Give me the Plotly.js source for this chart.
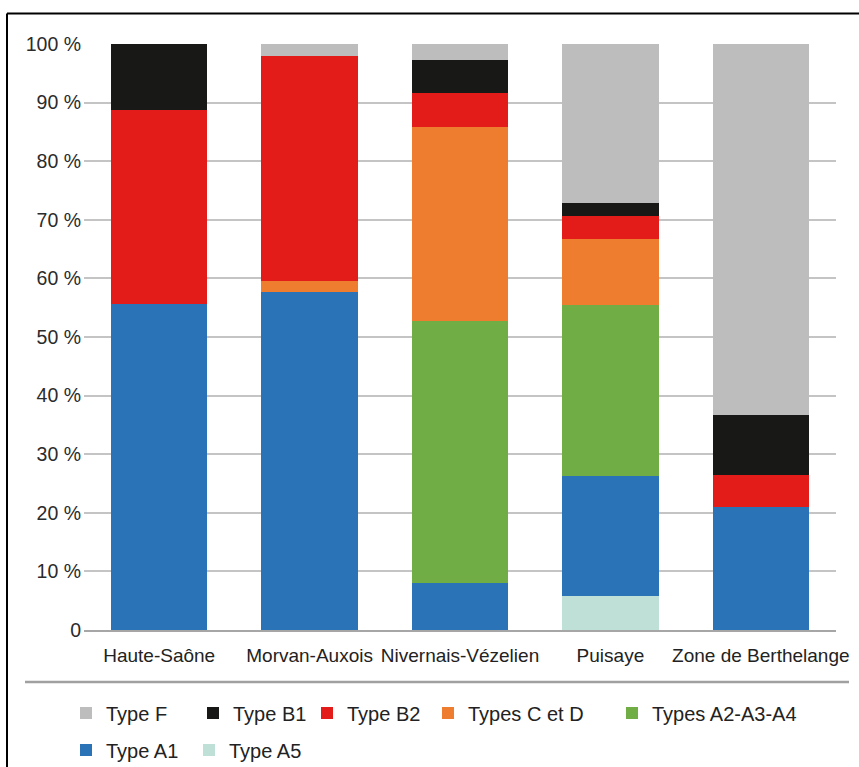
<!DOCTYPE html>
<html>
<head>
<meta charset="utf-8">
<script src="https://cdn.plot.ly/plotly-3.0.1.min.js"></script>
<style>html,body{margin:0;padding:0;background:#fff;}#chart{width:859px;height:767px;}</style>
</head>
<body>
<div id="chart"></div>
<script>
const categories = ["Haute-Saône", "Morvan-Auxois", "Nivernais-Vézelien", "Puisaye", "Zone de Berthelange"];
// stacked from bottom to top
const typeA5  = [0,    0,    0,    5.8,  0];
const typeA1  = [55.6, 57.7, 8.1,  20.4, 21.0];
const typeA2A3A4 = [0, 0,    44.7, 29.3, 0];
const typesCD = [0,    1.9,  33.1, 11.3, 0];
const typeB2  = [33.2, 38.4, 5.8,  3.9,  5.4];
const typeB1  = [11.2, 0,    5.5,  2.2,  10.3];
const typeF   = [0,    2.0,  2.8,  27.1, 63.3];
const seriesNames = ["Type A5", "Type A1", "Types A2-A3-A4", "Types C et D", "Type B2", "Type B1", "Type F"];
const yTickVals = [0, 10, 20, 30, 40, 50, 60, 70, 80, 90, 100];
const yTickText = ["0", "10 %", "20 %", "30 %", "40 %", "50 %", "60 %", "70 %", "80 %", "90 %", "100 %"];

const seriesValues = [typeA5, typeA1, typeA2A3A4, typesCD, typeB2, typeB1, typeF];
const seriesColors = ["#bfe0d7", "#2a73b7", "#70ad45", "#ee7d30", "#e31c19", "#181816", "#bdbdbd"];
// legend placement (text start x, row centre y) in pixels
const legendPlace = [[228, 750], [105, 750], [651, 713], [467, 713], [346, 713], [232, 713], [105, 713]];

const font = "Liberation Sans, Arial, sans-serif";

const traces = seriesNames.map((name, i) => ({
  type: "bar",
  name: name,
  x: categories,
  y: seriesValues[i],
  legend: i === 0 ? "legend" : "legend" + (i + 1),
  marker: {color: seriesColors[i], line: {width: 0}},
  hoverinfo: "name+y"
}));

const L = 84, R = 23, T = 43.5, B = 137;
const W = 859 - L - R, H = 767 - T - B;
const px = x => (x - L) / W;
const py = y => (767 - B - y) / H;

const layout = {
  width: 859, height: 767,
  margin: {l: L, r: R, t: T, b: B, pad: 0, autoexpand: false},
  paper_bgcolor: "#ffffff",
  plot_bgcolor: "#ffffff",
  barmode: "stack",
  bargap: 0.36,
  font: {family: font, size: 18, color: "#2b2b2b"},
  xaxis: {
    type: "category",
    range: [-0.5, 4.5],
    showgrid: false,
    showline: true,
    linecolor: "#a6a6a6",
    linewidth: 2,
    ticks: "",
    tickfont: {family: font, size: 19, color: "#222"},
    ticklabelstandoff: 7
  },
  yaxis: {
    range: [0, 100],
    tickvals: yTickVals,
    ticktext: yTickText,
    showgrid: true,
    gridcolor: "#c4c4c4",
    gridwidth: 2,
    zeroline: false,
    showline: false,
    ticks: "",
    tickfont: {family: font, size: 19.5, color: "#2b2b2b"},
    ticklabelstandoff: 2
  },
  showlegend: true,
  shapes: [
    {type: "line", xref: "paper", yref: "paper", x0: px(25), x1: px(849), y0: py(682), y1: py(682),
     line: {color: "#a0a0a0", width: 2.5}},
    {type: "line", xref: "paper", yref: "paper", x0: px(7), x1: px(859), y0: py(13), y1: py(13),
     line: {color: "#000", width: 2}},
    {type: "line", xref: "paper", yref: "paper", x0: px(7), x1: px(7), y0: py(13), y1: py(767),
     line: {color: "#000", width: 2}}
  ]
};

legendPlace.forEach((p, i) => {
  const key = i === 0 ? "legend" : "legend" + (i + 1);
  layout[key] = {
    orientation: "h",
    xref: "container", yref: "container",
    x: (p[0] - 39) / 859, xanchor: "left",
    y: 1 - p[1] / 767, yanchor: "middle",
    font: {family: font, size: 20, color: "#222"},
    itemwidth: 30,
    bgcolor: "rgba(0,0,0,0)",
    borderwidth: 0
  };
});

Plotly.newPlot("chart", traces, layout, {displayModeBar: false, staticPlot: true});
</script>
</body>
</html>
